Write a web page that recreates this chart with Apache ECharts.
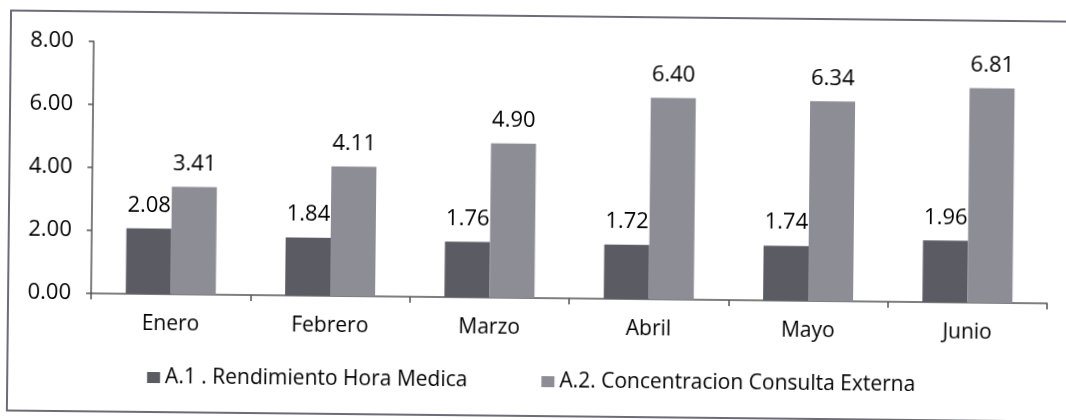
<!DOCTYPE html>
<html>
<head>
<meta charset="utf-8">
<script src="https://cdn.jsdelivr.net/npm/echarts@6/dist/echarts.min.js"></script>
<style>
  html, body { margin: 0; padding: 0; background: #ffffff; }
  #chart { width: 1066px; height: 420px; transform: rotate(0.6deg); transform-origin: 533px 210px; }
</style>
</head>
<body>
<div id="chart"></div>
<script>
const categories = ['Enero', 'Febrero', 'Marzo', 'Abril', 'Mayo', 'Junio'];
const seriesNames = ['A.1 . Rendimiento Hora Medica', 'A.2. Concentracion Consulta Externa'];
const rendimiento = [2.08, 1.84, 1.76, 1.72, 1.74, 1.96];
const concentracion = [3.41, 4.11, 4.90, 6.40, 6.34, 6.81];
const yTicks = { min: 0, max: 8, interval: 2 };

const chart = echarts.init(document.getElementById('chart'));
const FONT = '"Open Sans", sans-serif';
const labelStyle = {
  show: true,
  position: 'top',
  distance: 12,
  fontFamily: FONT,
  fontSize: 22,
  fontWeight: 500,
  color: '#000',
  formatter: p => p.value.toFixed(2)
};
chart.setOption({
  animation: false,
  backgroundColor: '#ffffff',
  graphic: [{
    type: 'rect',
    shape: { x: 9, y: 16, width: 1080, height: 400 },
    style: { fill: 'none', stroke: '#6c6c78', lineWidth: 2 }
  }],
  grid: { left: 92, right: 18, top: 46, bottom: 122 },
  legend: {
    data: seriesNames,
    top: 366,
    left: 'center',
    itemWidth: 13,
    itemHeight: 11,
    itemGap: 74,
    icon: 'rect',
    textStyle: { fontFamily: FONT, fontSize: 21, fontWeight: 500, color: '#000' }
  },
  xAxis: {
    type: 'category',
    data: categories,
    axisLine: { lineStyle: { color: '#555', width: 1.5 } },
    axisTick: { show: true, length: 6, lineStyle: { color: '#555', width: 1.5 } },
    axisLabel: { fontFamily: FONT, fontSize: 21, fontWeight: 500, color: '#000', margin: 20 }
  },
  yAxis: {
    type: 'value',
    min: yTicks.min,
    max: yTicks.max,
    interval: yTicks.interval,
    splitLine: { show: false },
    axisLine: { show: true, lineStyle: { color: '#555', width: 1.5 } },
    axisTick: { show: true, length: 5, lineStyle: { color: '#555', width: 1.5 } },
    axisLabel: { fontFamily: FONT, fontSize: 22, fontWeight: 500, color: '#000', margin: 20, formatter: v => v.toFixed(2) }
  },
  series: [
    {
      name: seriesNames[0],
      type: 'bar',
      data: rendimiento,
      barWidth: 45,
      barGap: '0%',
      itemStyle: { color: '#5b5b63' },
      label: labelStyle
    },
    {
      name: seriesNames[1],
      type: 'bar',
      data: concentracion,
      barWidth: 45,
      barGap: '0%',
      itemStyle: { color: '#8d8d95' },
      label: labelStyle
    }
  ]
});
</script>
</body>
</html>
